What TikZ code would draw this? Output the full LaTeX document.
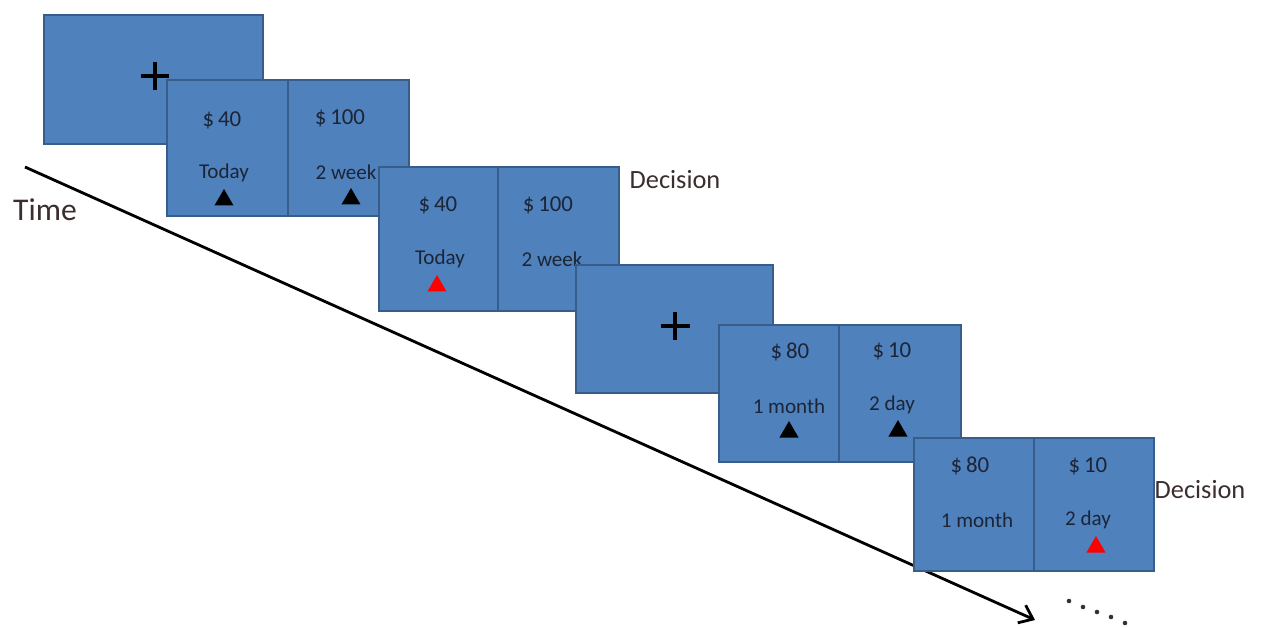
\documentclass[tikz,border=0pt]{standalone}
\usepackage{fontspec}
\setmainfont{Carlito}
\usetikzlibrary{arrows.meta,shapes.geometric}
\definecolor{slideblue}{HTML}{4F81BD}
\definecolor{slideedge}{HTML}{385D8A}
\definecolor{labeltext}{HTML}{1C2536}
\definecolor{sidetext}{HTML}{3B2E2E}

\begin{document}
\begin{tikzpicture}[x=0.02cm,y=-0.02cm,
  screen/.style={draw=slideedge,line width=1.3pt,fill=slideblue,anchor=north west,inner sep=0pt},
  amount/.style={font=\fontsize{13}{15}\selectfont,text=labeltext,inner sep=0pt},
  delay/.style={font=\fontsize{12}{14}\selectfont,text=labeltext,inner sep=0pt},
  cue/.style={regular polygon,regular polygon sides=3,inner sep=0pt,minimum size=0.44cm,fill=#1},
  side/.style={font=\fontsize{15}{18}\selectfont,text=sidetext,inner sep=0pt}]
  \useasboundingbox (0,0) rectangle (1264,628);
  % time axis
  \coordinate (tstart) at (25,167);
  \coordinate (tend) at (1035,620);
  \draw[line width=1.6pt,-{Straight Barb[length=7pt,width=11pt]}] (tstart) -- (tend);
  \node[side,font=\fontsize{18}{21}\selectfont] (timelbl) at (45,210) {Time};
  % first fixation
  \node[screen,minimum width=4.38cm,minimum height=2.58cm] (fixA) at (43,14) {};
  \coordinate (plusA) at (155,76);
  \draw[line width=2pt] ([xshift=-0.29cm]plusA) -- ([xshift=0.29cm]plusA)
    ([yshift=-0.29cm]plusA) -- ([yshift=0.29cm]plusA);
  % first choice
  \node[screen,minimum width=2.42cm,minimum height=2.72cm] (choiceAl) at (166,79) {};
  \node[screen,minimum width=2.42cm,minimum height=2.72cm] (choiceAr) at (287,79) {};
  \node[amount] (amtAl) at (222,120) {\$\,40};
  \node[delay] (delAl) at (224,173) {Today};
  \node[cue=black] (cueAl) at (224,200) {};
  \node[amount] (amtAr) at (340,118) {\$\,100};
  \node[delay] (delAr) at (346,172) {2 week};
  \node[cue=black] (cueAr) at (351,199) {};
  % first decision
  \node[screen,minimum width=2.38cm,minimum height=2.88cm] (choiceBl) at (378,166) {};
  \node[screen,minimum width=2.42cm,minimum height=2.88cm] (choiceBr) at (497,166) {};
  \node[amount] (amtBl) at (438,205) {\$\,40};
  \node[delay] (delBl) at (440,259) {Today};
  \node[cue=red] (cueBl) at (437,286) {};
  \node[amount] (amtBr) at (548,205) {\$\,100};
  \node[delay] (delBr) at (552,259) {2 week};
  \node[side] (decA) at (675,180) {Decision};
  % second fixation
  \node[screen,minimum width=3.94cm,minimum height=2.56cm] (fixB) at (575,264) {};
  \coordinate (plusB) at (675,326);
  \draw[line width=2pt] ([xshift=-0.29cm]plusB) -- ([xshift=0.29cm]plusB)
    ([yshift=-0.29cm]plusB) -- ([yshift=0.29cm]plusB);
  % second choice
  \node[screen,minimum width=2.40cm,minimum height=2.74cm] (choiceCl) at (718,324) {};
  \node[screen,minimum width=2.44cm,minimum height=2.74cm] (choiceCr) at (838,324) {};
  \node[amount] (amtCl) at (790,352) {\$\,80};
  \node[delay] (delCl) at (789,406) {1 month};
  \node[cue=black] (cueCl) at (789,432) {};
  \node[amount] (amtCr) at (892,351) {\$\,10};
  \node[delay] (delCr) at (892,405) {2 day};
  \node[cue=black] (cueCr) at (898,431) {};
  % second decision
  \node[screen,minimum width=2.40cm,minimum height=2.66cm] (choiceDl) at (913,437) {};
  \node[screen,minimum width=2.40cm,minimum height=2.66cm] (choiceDr) at (1033,437) {};
  \node[amount] (amtDl) at (970,466) {\$\,80};
  \node[delay] (delDl) at (977,520) {1 month};
  \node[amount] (amtDr) at (1088,466) {\$\,10};
  \node[delay] (delDr) at (1088,520) {2 day};
  \node[cue=red] (cueDr) at (1096,547) {};
  \node[side] (decB) at (1200,490) {Decision};
  % more trials
  \foreach \dx/\dy in {1069/601,1083/607,1097/612,1111/617,1125/623}
    \fill[sidetext] (\dx,\dy) circle (1.3pt);
\end{tikzpicture}
\end{document}
